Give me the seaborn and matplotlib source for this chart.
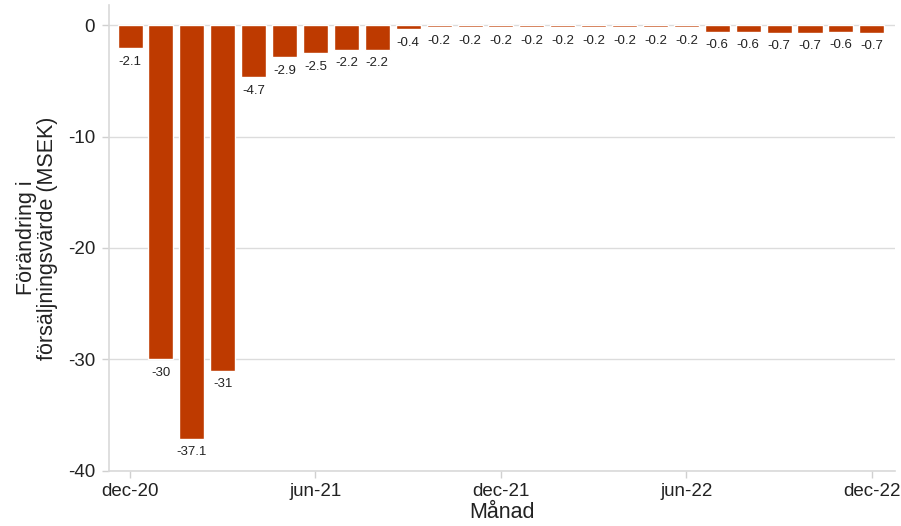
import matplotlib
matplotlib.use("Agg")
import matplotlib.pyplot as plt
import seaborn as sns
import pandas as pd

months = ["dec-20", "jan-21", "feb-21", "mar-21", "apr-21", "maj-21", "jun-21",
          "jul-21", "aug-21", "sep-21", "okt-21", "nov-21", "dec-21",
          "jan-22", "feb-22", "mar-22", "apr-22", "maj-22", "jun-22",
          "jul-22", "aug-22", "sep-22", "okt-22", "nov-22", "dec-22"]
values = [-2.1, -30, -37.1, -31, -4.7, -2.9, -2.5, -2.2, -2.2, -0.4,
          -0.2, -0.2, -0.2, -0.2, -0.2, -0.2, -0.2, -0.2, -0.2,
          -0.6, -0.6, -0.7, -0.7, -0.6, -0.7]
tick_months = ["dec-20", "jun-21", "dec-21", "jun-22", "dec-22"]
y_ticks = [0, -10, -20, -30, -40]

df = pd.DataFrame({"Månad": months, "Värde": values})

sns.set_theme(style="white")
plt.rcParams["font.family"] = ["Liberation Sans", "DejaVu Sans"]

fig = plt.figure(figsize=(9.01, 5.26), dpi=100)
ax = fig.add_axes([0.121, 0.1046, 0.872, 0.886])

sns.barplot(data=df, x="Månad", y="Värde", order=months, color="#BE3A00",
            saturation=1, width=0.81, ax=ax)

for c in ax.containers:
    ax.bar_label(c, labels=[f"{v:g}" for v in values], padding=5.5,
                 fontsize=9.5, color="#222222")

ax.set_ylim(-40, 1.8)
ax.set_xlim(-0.68, 24.74)
ax.set_yticks(y_ticks)
ax.set_yticklabels([str(t) for t in y_ticks])
idx = [months.index(m) for m in tick_months]
ax.set_xticks(idx)
ax.set_xticklabels(tick_months)

ax.yaxis.grid(True, color="#dcdcdc", linewidth=1)
ax.set_axisbelow(True)
for s in ["top", "right"]:
    ax.spines[s].set_visible(False)
for s in ["left", "bottom"]:
    ax.spines[s].set_color("#d9d9d9")
    ax.spines[s].set_linewidth(1.2)

ax.tick_params(axis="both", labelsize=13.5, colors="#222222")
ax.tick_params(axis="x", bottom=True, length=5, color="#d0d0d0", width=1, pad=4)
ax.tick_params(axis="y", left=True, length=5, color="#d0d0d0", width=1, pad=5)

ax.set_xlabel("Månad", fontsize=15.5, color="#222222", labelpad=1)
ax.set_ylabel("Förändring i\nförsäljningsvärde (MSEK)", fontsize=15.5,
              color="#222222", labelpad=7, linespacing=1.0)

fig.savefig("out.png", dpi=100)
